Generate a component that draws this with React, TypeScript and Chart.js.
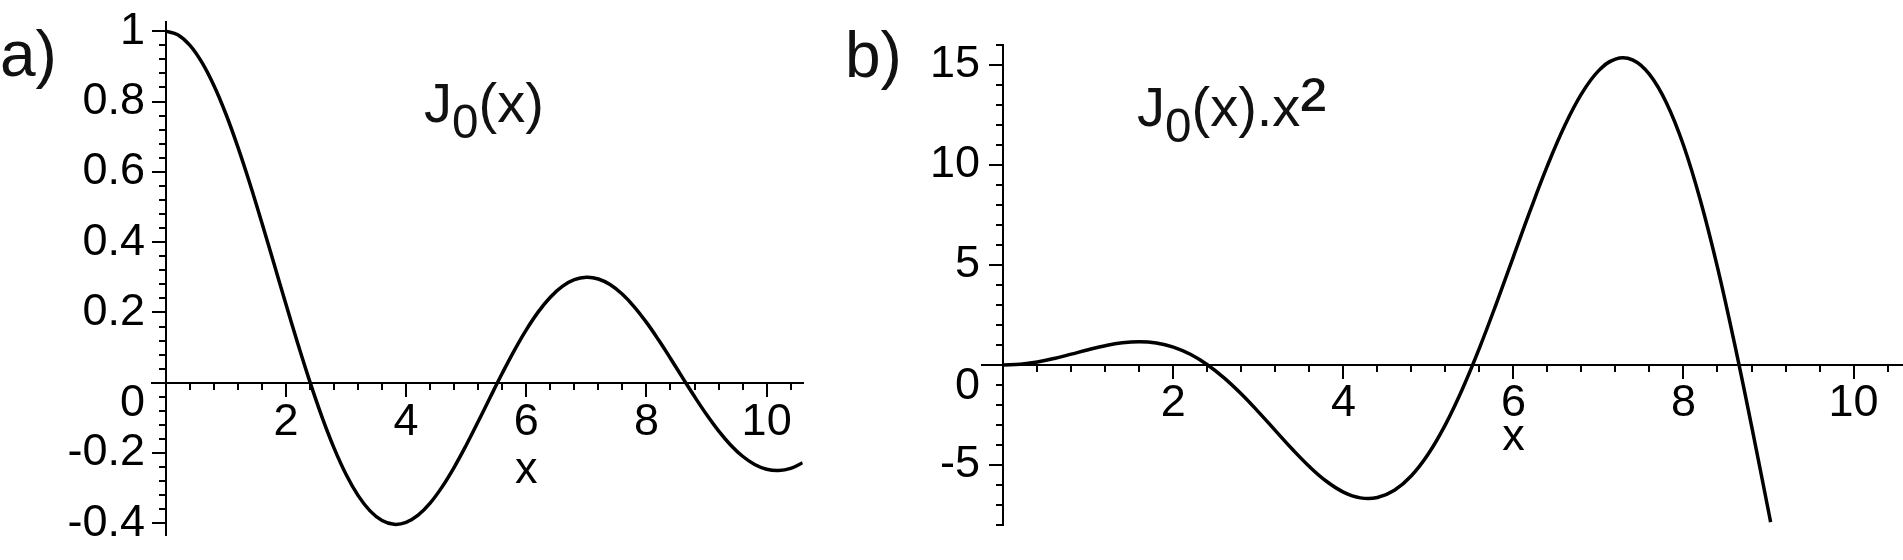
import React, { useEffect, useRef } from "react";
import { Chart, registerables } from "chart.js";

Chart.register(...registerables);

// ---------- Panel a: J0(x) ----------
const XS_A = [
  0, 0.2, 0.4, 0.6, 0.8, 1.0, 1.2, 1.4, 1.6, 1.8, 2.0, 2.2, 2.4, 2.6, 2.8, 3.0,
  3.2, 3.4, 3.6, 3.8, 4.0, 4.2, 4.4, 4.6, 4.8, 5.0, 5.2, 5.4, 5.6, 5.8, 6.0,
  6.2, 6.4, 6.6, 6.8, 7.0, 7.2, 7.4, 7.6, 7.8, 8.0, 8.2, 8.4, 8.6, 8.8, 9.0,
  9.2, 9.4, 9.6, 9.8, 10.0, 10.2, 10.4, 10.6,
];
const J0_A = [
  1.0, 0.99, 0.9604, 0.912, 0.8463, 0.7652, 0.6711, 0.5669, 0.4554, 0.34,
  0.2239, 0.1104, 0.0025, -0.0968, -0.185, -0.2601, -0.3202, -0.3643, -0.3918,
  -0.4026, -0.3971, -0.3766, -0.3423, -0.2961, -0.2404, -0.1776, -0.1103,
  -0.0412, 0.027, 0.0917, 0.1506, 0.2017, 0.2433, 0.274, 0.2931, 0.3001,
  0.2951, 0.2786, 0.2516, 0.2154, 0.1717, 0.1222, 0.0692, 0.0146, -0.0392,
  -0.0903, -0.1367, -0.1768, -0.209, -0.2323, -0.2459, -0.2496, -0.2434,
  -0.2277,
];
const X_MAJOR_A = [2, 4, 6, 8, 10];
const X_LABELS_A: (string | string[])[] = ["2", "4", ["6", "x"], "8", "10"];
const X_MINOR_A = [
  0.4, 0.8, 1.2, 1.6, 2.4, 2.8, 3.2, 3.6, 4.4, 4.8, 5.2, 5.6, 6.4, 6.8, 7.2,
  7.6, 8.4, 8.8, 9.2, 9.6, 10.4,
];
const Y_MAJOR_A = [-0.4, -0.2, 0, 0.2, 0.4, 0.6, 0.8, 1];
const Y_LABELS_A: (string | string[])[] = [
  "-0.4", "-0.2", ["", "0"], "0.2", "0.4", "0.6", "0.8", "1",
];
const Y_MINOR_A = [
  -0.36, -0.32, -0.28, -0.24, -0.16, -0.12, -0.08, -0.04, 0.04, 0.08, 0.12,
  0.16, 0.24, 0.28, 0.32, 0.36, 0.44, 0.48, 0.52, 0.56, 0.64, 0.68, 0.72,
  0.76, 0.84, 0.88, 0.92, 0.96,
];

// ---------- Panel b: J0(x)·x² ----------
const XS_B = [
  0, 0.2, 0.4, 0.6, 0.8, 1.0, 1.2, 1.4, 1.6, 1.8, 2.0, 2.2, 2.4, 2.6, 2.8, 3.0,
  3.2, 3.4, 3.6, 3.8, 4.0, 4.2, 4.4, 4.6, 4.8, 5.0, 5.2, 5.4, 5.6, 5.8, 6.0,
  6.2, 6.4, 6.6, 6.8, 7.0, 7.2, 7.4, 7.6, 7.8, 8.0, 8.2, 8.4, 8.6, 8.8, 9.0,
  9.025,
];
const J0X2_B = [
  0, 0.0396, 0.1537, 0.3283, 0.5416, 0.7652, 0.9664, 1.1111, 1.1658, 1.1016,
  0.8956, 0.5343, 0.0144, -0.6544, -1.4504, -2.3409, -3.2788, -4.2113,
  -5.0777, -5.8135, -6.3536, -6.6432, -6.6269, -6.2655, -5.5388, -4.44,
  -2.9825, -1.2014, 0.8467, 3.0848, 5.4216, 7.7533, 9.9656, 11.9354, 13.5529,
  14.7049, 15.298, 15.2561, 14.5324, 13.1049, 10.9888, 8.2167, 4.8828, 1.0798,
  -3.0356, -7.3143, -7.86,
];
const X_MAJOR_B = [2, 4, 6, 8, 10];
const X_LABELS_B: (string | string[])[] = ["2", "4", ["6", "x"], "8", "10"];
const X_MINOR_B = [
  0.4, 0.8, 1.2, 1.6, 2.4, 2.8, 3.2, 3.6, 4.4, 4.8, 5.2, 5.6, 6.4, 6.8, 7.2,
  7.6, 8.4, 8.8, 9.2, 9.6, 10.4,
];
const Y_MAJOR_B = [-5, 0, 5, 10, 15];
const Y_LABELS_B: (string | string[])[] = ["-5", ["", "0"], "5", "10", "15"];
const Y_MINOR_B = [
  -8, -7, -6, -4, -3, -2, -1, 1, 2, 3, 4, 6, 7, 8, 9, 11, 12, 13, 14, 16,
];

const TICK_FAMILY = "'Liberation Sans', Arial, Helvetica, sans-serif";
const TEXT_FAMILY = "'Liberation Sans', Arial, Helvetica, sans-serif";

type PanelCfg = {
  xs: number[];
  ys: number[];
  xMin: number;
  xMax: number;
  yMin: number;
  yMax: number;
  xMajor: number[];
  xLabels: (string | string[])[];
  xMinor: number[];
  xLineHeight: string;
  xPad: number;
  yMajor: number[];
  yLabels: (string | string[])[];
  yMinor: number[];
  yLabelAt: number; // x value (data units) where the right edge of y labels sits
  zeroShift: string;
  padding: { left: number; right: number; top: number; bottom: number };
};

function makeChart(canvas: HTMLCanvasElement, p: PanelCfg) {
  const gridMajor = {
    display: true,
    drawOnChartArea: false,
    drawTicks: true,
    tickLength: 13,
    color: "#000",
    lineWidth: 2,
  };
  const gridMinor = { ...gridMajor, tickLength: 7 };
  const tickFontSize = 45;
  return new Chart(canvas, {
    type: "line",
    data: {
      datasets: [
        {
          data: p.xs.map((x, i) => ({ x, y: p.ys[i] })),
          borderColor: "#000",
          borderWidth: 3.5,
          pointRadius: 0,
          tension: 0.4,
          fill: false,
          xAxisID: "x",
          yAxisID: "y",
        },
      ],
    },
    options: {
      animation: false,
      responsive: false,
      devicePixelRatio: 1,
      events: [],
      layout: { padding: p.padding },
      plugins: {
        legend: { display: false },
        tooltip: { enabled: false },
        title: { display: false },
      },
      scales: {
        x: {
          type: "linear",
          axis: "x",
          position: { y: 0 },
          min: p.xMin,
          max: p.xMax,
          bounds: "data",
          border: { display: true, color: "#000", width: 2 },
          grid: gridMajor,
          afterBuildTicks: (s: any) => {
            s.ticks = p.xMajor.map((v) => ({ value: v }));
          },
          ticks: {
            autoSkip: false,
            maxRotation: 0,
            minRotation: 0,
            padding: p.xPad,
            color: "#000",
            font: { family: TICK_FAMILY, size: tickFontSize, lineHeight: p.xLineHeight },
            callback: (_v: any, i: number) => p.xLabels[i],
          },
        },
        xm: {
          type: "linear",
          axis: "x",
          position: { y: 0 },
          min: p.xMin,
          max: p.xMax,
          bounds: "data",
          border: { display: false },
          grid: gridMinor,
          afterBuildTicks: (s: any) => {
            s.ticks = p.xMinor.map((v) => ({ value: v }));
          },
          ticks: { display: false },
        },
        y: {
          type: "linear",
          axis: "y",
          position: { x: 0 },
          min: p.yMin,
          max: p.yMax,
          bounds: "data",
          border: { display: true, color: "#000", width: 2 },
          grid: gridMajor,
          afterBuildTicks: (s: any) => {
            s.ticks = p.yMajor.map((v) => ({ value: v }));
          },
          ticks: { display: false },
        },
        ym: {
          type: "linear",
          axis: "y",
          position: { x: 0 },
          min: p.yMin,
          max: p.yMax,
          bounds: "data",
          border: { display: false },
          grid: gridMinor,
          afterBuildTicks: (s: any) => {
            s.ticks = p.yMinor.map((v) => ({ value: v }));
          },
          ticks: { display: false },
        },
        // labels of the y axis, right-aligned just left of the major tick marks
        yl: {
          type: "linear",
          axis: "y",
          position: { x: p.yLabelAt },
          min: p.yMin,
          max: p.yMax,
          bounds: "data",
          border: { display: false },
          grid: { display: false },
          afterBuildTicks: (s: any) => {
            s.ticks = p.yMajor.map((v) => ({ value: v }));
          },
          ticks: {
            autoSkip: false,
            padding: 0,
            color: "#000",
            font: (ctx: any) => ({
              family: TICK_FAMILY,
              size: tickFontSize,
              lineHeight: ctx.tick && ctx.tick.value === 0 ? p.zeroShift : "28px",
            }),
            callback: (_v: any, i: number) => p.yLabels[i],
          },
        },
      },
    } as any,
  } as any);
}

const PANEL_A: PanelCfg = {
  xs: XS_A,
  ys: J0_A,
  xMin: -0.223,
  xMax: 10.6,
  yMin: -0.433,
  yMax: 1.027,
  xMajor: X_MAJOR_A,
  xLabels: X_LABELS_A,
  xMinor: X_MINOR_A,
  xLineHeight: "48px",
  xPad: 3.3,
  yMajor: Y_MAJOR_A,
  yLabels: Y_LABELS_A,
  yMinor: Y_MINOR_A,
  yLabelAt: -0.344,
  zeroShift: "41px",
  padding: { left: 152.3, right: 127.3, top: 21.7, bottom: 25 },
};

const PANEL_B: PanelCfg = {
  xs: XS_B,
  ys: J0X2_B,
  xMin: -0.254,
  xMax: 10.57,
  yMin: -8,
  yMax: 16,
  xMajor: X_MAJOR_B,
  xLabels: X_LABELS_B,
  xMinor: X_MINOR_B,
  xLineHeight: "34px",
  xPad: 8.5,
  yMajor: Y_MAJOR_B,
  yLabels: Y_LABELS_B,
  yMinor: Y_MINOR_B,
  yLabelAt: -0.274,
  zeroShift: "43px",
  padding: { left: 51.7, right: 1, top: 45, bottom: 35 },
};

function Panel({ cfg, left, width }: { cfg: PanelCfg; left: number; width: number }) {
  const ref = useRef<HTMLCanvasElement | null>(null);
  useEffect(() => {
    if (!ref.current) return;
    const chart = makeChart(ref.current, cfg);
    return () => chart.destroy();
  }, [cfg]);
  return (
    <canvas
      ref={ref}
      width={width}
      height={560}
      style={{ position: "absolute", left, top: 0, width, height: 560, display: "block" }}
    />
  );
}

const textBase: React.CSSProperties = {
  position: "absolute",
  fontFamily: TEXT_FAMILY,
  lineHeight: 1,
  whiteSpace: "nowrap",
  color: "#111",
};

const subStyle: React.CSSProperties = {
  fontSize: "0.85em",
  position: "relative",
  top: "0.34em",
};

const supStyle: React.CSSProperties = {
  fontSize: "1.4em",
  position: "relative",
  top: "0.1em",
  lineHeight: 0,
};

export default function App() {
  return (
    <div
      style={{
        position: "fixed",
        left: 0,
        top: 0,
        width: 1903,
        height: 560,
        background: "#fff",
        overflow: "hidden",
      }}
    >
      <Panel cfg={PANEL_A} left={0} width={930} />
      <Panel cfg={PANEL_B} left={930} width={973} />
      <div style={{ ...textBase, left: 0, top: 22, fontSize: 64 }}>a)</div>
      <div style={{ ...textBase, left: 845, top: 23, fontSize: 64 }}>b)</div>
      <div style={{ ...textBase, left: 424, top: 74.6, fontSize: 56 }}>
        J<span style={subStyle}>0</span>(x)
      </div>
      <div style={{ ...textBase, left: 1137, top: 78.6, fontSize: 56 }}>
        J<span style={subStyle}>0</span>(x).x<span style={supStyle}>²</span>
      </div>
    </div>
  );
}
